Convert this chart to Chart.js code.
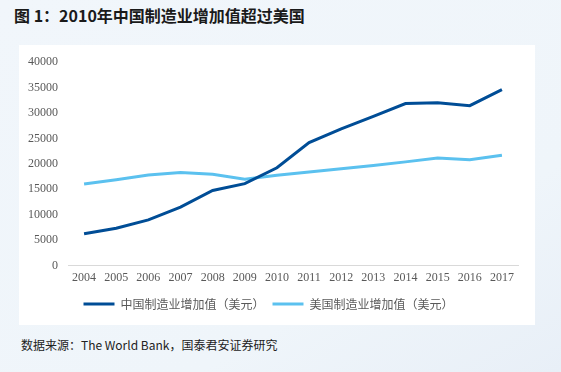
<!DOCTYPE html>
<html>
<head>
<meta charset="utf-8">
<script src="https://cdn.jsdelivr.net/npm/chart.js@4"></script>
<style>
  html, body { margin: 0; padding: 0; }
  body {
    width: 561px; height: 372px; overflow: hidden; position: relative;
    background: linear-gradient(150deg, #f1f6fb 0%, #eff5fa 70%, #e8eff7 100%);
    font-family: "Noto Sans CJK SC", "Noto Sans", sans-serif;
  }
  #title {
    position: absolute; left: 14px; top: 3px;
    font-size: 16px; font-weight: bold; color: #1a1a1a;
  }
  #panel {
    position: absolute; left: 19px; top: 45px; width: 516px; height: 280px;
    background: #fff;
  }
  #source {
    position: absolute; left: 21px; top: 336px;
    font-size: 12px; color: #222;
  }
</style>
</head>
<body>
<div id="title">图 1：2010年中国制造业增加值超过美国</div>
<div id="panel"><canvas id="myChart" width="516" height="280"></canvas></div>
<div id="source">数据来源：The World Bank，国泰君安证券研究</div>
<script>
const years = ['2004','2005','2006','2007','2008','2009','2010','2011','2012','2013','2014','2015','2016','2017']
// 亿美元
const china = [6250, 7340, 8980, 11500, 14770, 16120, 19240, 24200, 26900, 29350, 31860, 32020, 31450, 34600]
const usa = [16050, 16900, 17800, 18300, 17950, 17000, 17750, 18400, 19050, 19700, 20400, 21150, 20800, 21700]
const seriesNames = ['中国制造业增加值（美元）', '美国制造业增加值（美元）']

const ctx = document.getElementById('myChart')
new Chart(ctx, {
  type: 'line',
  data: {
    labels: years,
    datasets: [{
      label: seriesNames[0],
      data: china,
      borderColor: '#004d96',
      backgroundColor: '#004d96',
      borderWidth: 3,
      pointRadius: 0,
      tension: 0
    }, {
      label: seriesNames[1],
      data: usa,
      borderColor: '#5bc1ef',
      backgroundColor: '#5bc1ef',
      borderWidth: 3,
      pointRadius: 0,
      tension: 0
    }]
  },
  options: {
    responsive: false,
    animation: false,
    layout: { padding: { top: 10, right: 17, bottom: 5, left: 0 } },
    plugins: {
      tooltip: { enabled: false },
      legend: {
        position: 'bottom',
        labels: {
          usePointStyle: true,
          pointStyle: 'line',
          pointStyleWidth: 31,
          boxHeight: 3,
          padding: 8,
          color: '#595959',
          font: { family: 'Noto Sans CJK SC', size: 12 }
        }
      }
    },
    scales: {
      x: {
        offset: true,
        grid: { display: false, drawTicks: false },
        border: { color: '#d9d9d9', width: 1 },
        ticks: {
          color: '#595959', padding: 5, maxRotation: 0,
          font: { family: 'Liberation Serif', size: 12 }
        }
      },
      y: {
        min: 0, max: 40000,
        grid: { display: false, drawTicks: false },
        border: { display: false },
        afterFit: s => { s.width = 49 },
        ticks: {
          stepSize: 5000, color: '#595959', padding: 10,
          callback: v => String(v),
          font: { family: 'Liberation Serif', size: 12 }
        }
      }
    }
  }
})
</script>
</body>
</html>
